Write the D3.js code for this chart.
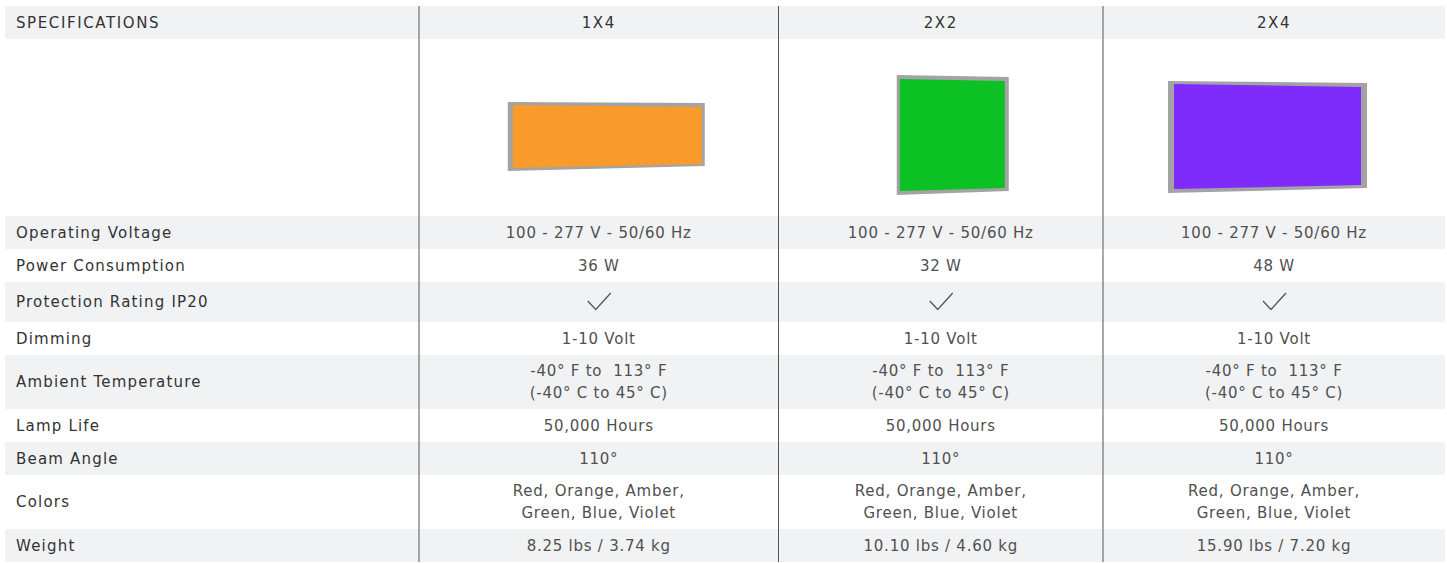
<!DOCTYPE html>
<html>
<head>
<meta charset="utf-8">
<script src="https://cdn.jsdelivr.net/npm/d3@7"></script>
<style>
  body { margin: 0; background: #fff; }
  svg { display: block; font-family: "DejaVu Sans", sans-serif; }
</style>
</head>
<body>
<svg id="svg" width="1447" height="563"></svg>
<script>
// ---- //
// Data //
// ---- //

const headerLabel = "SPECIFICATIONS";
const models = ["1X4", "2X2", "2X4"];
const panelColors = ["#f99b2a", "#0bc124", "#7f2bfc"];

const specLabels = [
  "Operating Voltage",
  "Power Consumption",
  "Protection Rating IP20",
  "Dimming",
  "Ambient Temperature",
  "Lamp Life",
  "Beam Angle",
  "Colors",
  "Weight"
];

// one entry per model, "\n" splits a cell in two lines, "check" is the tick mark
const specs1x4 = ["100 - 277 V - 50/60 Hz", "36 W", "check", "1-10 Volt",
  "-40° F to  113° F\n(-40° C to 45° C)", "50,000 Hours", "110°",
  "Red, Orange, Amber,\nGreen, Blue, Violet", "8.25 lbs / 3.74 kg"];
const specs2x2 = ["100 - 277 V - 50/60 Hz", "32 W", "check", "1-10 Volt",
  "-40° F to  113° F\n(-40° C to 45° C)", "50,000 Hours", "110°",
  "Red, Orange, Amber,\nGreen, Blue, Violet", "10.10 lbs / 4.60 kg"];
const specs2x4 = ["100 - 277 V - 50/60 Hz", "48 W", "check", "1-10 Volt",
  "-40° F to  113° F\n(-40° C to 45° C)", "50,000 Hours", "110°",
  "Red, Orange, Amber,\nGreen, Blue, Violet", "15.90 lbs / 7.20 kg"];
const specValues = [specs1x4, specs2x2, specs2x4];

// ------ //
// Layout //
// ------ //

const svg = d3.select("#svg");
const x0 = 5, x1 = 1445, y0 = 6;
const headerH = 33, imageH = 177;
const lineH = 22;
const bandFill = "#f1f2f4";

// column edges (label column, then one per model)
const colKeys = ["label", ...models];
const colEdges = [x0, 419, 778.5, 1103, x1];
const colX = d3.scaleOrdinal().domain(colKeys).range(colEdges.slice(0, 4));
const colW = k => colEdges[colKeys.indexOf(k) + 1] - colX(k);
const colCenter = k => colX(k) + colW(k) / 2;

// row heights from content
const rowHeight = i => {
  const v = specs1x4[i];
  if (v === "check") return 40;
  return v.includes("\n") ? 54 : 33;
};
const rowY = [];
let yy = y0 + headerH + imageH;
specLabels.forEach((d, i) => { rowY.push(yy); yy += rowHeight(i); });
const yEnd = yy;

// header band
svg.append("rect")
  .attr("x", x0).attr("y", y0)
  .attr("width", x1 - x0).attr("height", headerH)
  .attr("fill", bandFill);

// zebra bands on spec rows
svg.append("g").selectAll("rect")
  .data(specLabels.map((d, i) => i).filter(i => i % 2 === 0))
  .join("rect")
  .attr("x", x0)
  .attr("y", i => rowY[i])
  .attr("width", x1 - x0)
  .attr("height", i => rowHeight(i))
  .attr("fill", bandFill);

// header texts
const headFont = { size: 15, ls: 1.6, fill: "#333" };
svg.append("text")
  .attr("x", 16).attr("y", y0 + headerH / 2).attr("dy", "0.36em")
  .attr("font-size", headFont.size).attr("letter-spacing", headFont.ls)
  .attr("fill", headFont.fill)
  .text(headerLabel);
svg.append("g").selectAll("text")
  .data(models)
  .join("text")
  .attr("x", d => colCenter(d)).attr("y", y0 + headerH / 2).attr("dy", "0.36em")
  .attr("text-anchor", "middle")
  .attr("font-size", headFont.size).attr("letter-spacing", headFont.ls)
  .attr("fill", headFont.fill)
  .text(d => d);

// panel pictures, drawn slightly skewed like the product shots
const panelShape = [
  // outer frame / inner face: [dx from column center, y]
  { outer: [[-91, 102], [106, 103], [106, 166], [-91, 171]], inner: [[-86, 105], [103, 107], [103, 164], [-86, 168]] },
  { outer: [[-44, 75], [68, 77], [68, 191], [-44, 195]], inner: [[-41, 79], [64, 81], [64, 188], [-41, 191]] },
  { outer: [[-106, 81], [93, 83], [93, 188], [-106, 193]], inner: [[-100, 84], [87, 87], [87, 185], [-100, 189]] }
];
const pts = (arr, cx) => arr.map(([dx, py]) => [cx + dx, py].join(",")).join(" ");
const panels = svg.append("g").selectAll("g")
  .data(models)
  .join("g");
panels.append("polygon")
  .attr("points", (d, i) => pts(panelShape[i].outer, colCenter(d)))
  .attr("fill", "#a3a3a5");
panels.append("polygon")
  .attr("points", (d, i) => pts(panelShape[i].inner, colCenter(d)))
  .attr("fill", (d, i) => panelColors[i]);

// spec labels
svg.append("g").selectAll("text")
  .data(specLabels)
  .join("text")
  .attr("x", 16)
  .attr("y", (d, i) => rowY[i] + rowHeight(i) / 2)
  .attr("dy", "0.36em")
  .attr("font-size", 15).attr("letter-spacing", 1.2)
  .attr("fill", "#333")
  .text(d => d);

// spec values
const check = d3.line();
models.forEach((m, mi) => {
  const g = svg.append("g").attr("fill", "#505050");
  specValues[mi].forEach((v, i) => {
    const cy = rowY[i] + rowHeight(i) / 2;
    const cx = colCenter(m);
    if (v === "check") {
      g.append("path")
        .attr("d", check([[cx - 11, cy - 1], [cx - 3, cy + 7.5], [cx + 12, cy - 9]]))
        .attr("fill", "none")
        .attr("stroke", "#555")
        .attr("stroke-width", 1.3);
      return;
    }
    const lines = v.split("\n");
    const t = g.append("text")
      .attr("text-anchor", "middle")
      .style("white-space", "pre")
      .attr("font-size", 15).attr("letter-spacing", 0.75);
    lines.forEach((s, li) => {
      t.append("tspan")
        .attr("x", cx)
        .attr("y", cy + (li - (lines.length - 1) / 2) * lineH)
        .attr("dy", "0.36em")
        .text(s);
    });
  });
});

// column separators
svg.append("g").selectAll("line")
  .data(colEdges.slice(1, 4))
  .join("line")
  .attr("x1", d => d).attr("x2", d => d)
  .attr("y1", y0).attr("y2", yEnd)
  .attr("stroke", "#555")
  .attr("stroke-width", 1);
</script>
</body>
</html>
